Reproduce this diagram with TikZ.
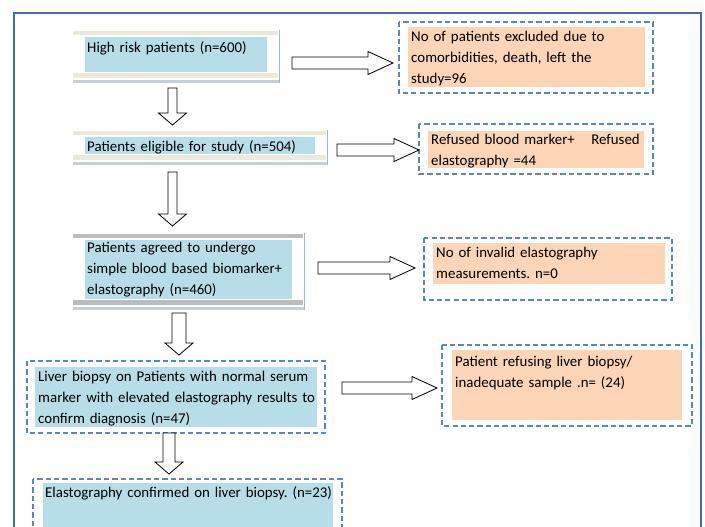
\documentclass[tikz,border=0pt]{standalone}
\usepackage{fontspec}
\setmainfont{Carlito}
\usetikzlibrary{calc}
\frenchspacing

\definecolor{boxblue}{RGB}{183,222,232}
\definecolor{boxpeach}{RGB}{251,213,181}
\definecolor{bandcream}{RGB}{236,233,218}
\definecolor{bandgray}{RGB}{188,188,188}
\definecolor{shadowgray}{RGB}{200,207,216}
\definecolor{edgeblue}{RGB}{160,182,208}
\definecolor{dashblue}{RGB}{84,135,200}
\definecolor{frameblue}{RGB}{70,105,180}

% hollow block arrows: tail x, tip x, y
\newcommand\harrow[3]{%
  \draw[blockarrow] (#1,#3-6) -- (#2-25,#3-6) -- (#2-25,#3-11.5) -- (#2,#3)
    -- (#2-25,#3+11.5) -- (#2-25,#3+6) -- (#1,#3+6) -- cycle;}
% x, tail y, tip y, half shaft
\newcommand\varrow[4]{%
  \draw[blockarrow] (#1-#4,#2) -- (#1-#4,#3-12) -- (#1-14,#3-12) -- (#1,#3)
    -- (#1+14,#3-12) -- (#1+#4,#3-12) -- (#1+#4,#2) -- cycle;}
% box with bands: x1, y1, x2, y2, band colour
\newcommand\bandbox[5]{%
  \fill[white] (#1,#2) rectangle (#3,#4);
  \fill[shadowgray] (#1,#4-3) rectangle (#3,#4);
  \fill[edgeblue] (#3-1.5,#2) rectangle (#3,#4);
  \fill[#5] (#1,#2+1) rectangle (#3-2,#2+5);
  \fill[#5] (#1,#4-10) rectangle (#3-2,#4-5);
  \fill[boxblue] (#1+12,#2+7) rectangle (#3-13,#4-11);}

\begin{document}
\begin{tikzpicture}[x=0.03cm, y=-0.03cm,
    blockarrow/.style={draw=black, fill=white, line width=0.7pt, line join=miter},
    dashbox/.style={draw=dashblue, line width=1.2pt, dash pattern=on 4.5pt off 2.6pt},
    txt/.style={anchor=north west, inner sep=0pt, text width=9cm, align=left,
        font=\fontsize{12.7}{17.9}\selectfont}]

    \useasboundingbox (0,0) rectangle (705,526);
    \clip (0,0) rectangle (705,526);
    \fill[white] (0,0) rectangle (705,526);
    \draw[frameblue, line width=1pt] (14,13) rectangle (701,560);

    %%%%%%%%%% left column %%%%%%%%%%
    \bandbox{73}{30}{280}{83}{bandcream}
    \node[txt] (high) at (87,37.3) {\strut High risk patients (n=600)};

    \bandbox{73}{130}{328}{165}{bandcream}
    \node[txt] (elig) at (87,136.3) {\strut Patients eligible for study (n=504)};

    \bandbox{73}{233}{305}{310}{bandgray}
    \node[txt] (agreed) at (87,237.3) {\strut Patients agreed to undergo\\
        simple blood based biomarker+\\ elastography (n=460)};

    \fill[boxblue] (35,367) rectangle (317,427);
    \draw[dashbox] (27,361) rectangle (325,433);
    \node[txt] (liver) at (38,366.3) {\strut Liver biopsy on Patients with normal serum\\
        marker with elevated elastography results to\\ confirm diagnosis (n=47)};

    \fill[boxblue] (43,483) rectangle (333,560);
    \draw[dashbox] (33,479) rectangle (342,570);
    \node[txt] (confirmed) at (45,482.3) {\strut Elastography confirmed on liver biopsy. (n=23)};

    %%%%%%%%%% right column %%%%%%%%%%
    \fill[boxpeach] (408,27) rectangle (645,87);
    \draw[dashbox] (399,22) rectangle (653,93);
    \node[txt] (excl) at (411,26.3) {\strut No of patients excluded due to\\
        comorbidities, death, left the\\ study=96};

    \fill[boxpeach] (428,131) rectangle (644,168);
    \draw[dashbox] (419,124) rectangle (653,174);
    \node[txt] (refused) at (431,129.3) {\strut Refused blood marker+\hspace{14pt}Refused\\
        elastography =44};

    \fill[boxpeach] (433,243) rectangle (665,284);
    \draw[dashbox] (424,238) rectangle (672,300);
    \node[txt] (invalid) at (436,242.3) {\strut No of invalid elastography\\
        measurements. n=0};

    \fill[boxpeach] (452,350) rectangle (682,420);
    \draw[dashbox] (442,345) rectangle (692,426);
    \node[txt] (refusing) at (455,351.3) {\strut Patient refusing liver biopsy/\\
        inadequate sample .n= (24)};

    %%%%%%%%%% arrows %%%%%%%%%%
    \harrow{292}{393}{63}
    \harrow{337}{419}{150}
    \harrow{318}{415}{268}
    \harrow{342}{437}{388}

    \varrow{172.5}{88}{125}{4.5}
    \varrow{172.5}{172}{226}{4.5}
    \varrow{179}{313}{355}{7}
    \varrow{169}{433}{474}{6}

\end{tikzpicture}
\end{document}
